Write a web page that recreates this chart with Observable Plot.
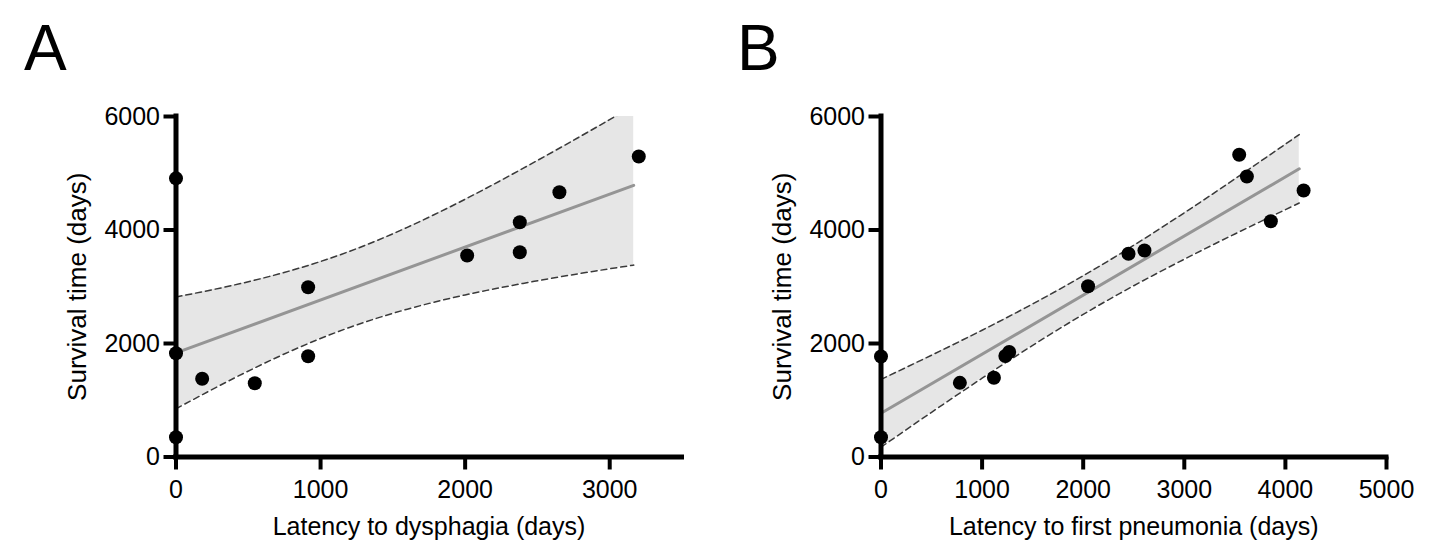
<!DOCTYPE html>
<html><head><meta charset="utf-8">
<script src="https://cdn.jsdelivr.net/npm/d3@7"></script>
<script src="https://cdn.jsdelivr.net/npm/@observablehq/plot@0.6"></script>
<style>
html,body{margin:0;padding:0;background:#fff;}
#wrap{position:relative;width:1444px;height:557px;overflow:hidden;font-family:"Liberation Sans",Arial,sans-serif;background:#fff;}
.panel{position:absolute;top:0;}
.letter{position:absolute;font-size:64px;line-height:1;top:16px;color:#000;}
</style></head><body>
<div id="wrap">
  <div class="letter" style="left:24px">A</div>
  <div class="letter" style="left:737px">B</div>
  <div class="panel" id="pA" style="left:0px"></div>
  <div class="panel" id="pB" style="left:722px"></div>
</div>
<script>
// Panel A: latency to dysphagia vs survival
const A_latency  = [0, 0, 0, 181, 545, 914, 914, 2014, 2378, 2378, 2652, 3201];
const A_survival = [4910, 1829, 349, 1378, 1300, 2992, 1776, 3551, 4137, 3609, 4666, 5295];
const A_fitX = [0, 3166];
const A_fitY = [1835, 4786];
const A_bandX  = [0, 400, 800, 1200, 1600, 2000, 2400, 2800, 3166];
const A_bandLo = [850, 1387, 1873, 2283, 2605, 2856, 3059, 3236, 3382];
const A_bandHi = [2820, 3029, 3289, 3623, 4047, 4542, 5085, 5654, 6190];
const A_xTicks = [0, 1000, 2000, 3000];

// Panel B: latency to first pneumonia vs survival
const B_latency  = [0, 0, 780, 1117, 1230, 1268, 2048, 2448, 2606, 3543, 3619, 3856, 4180];
const B_survival = [1771, 349, 1307, 1396, 1780, 1850, 3010, 3581, 3639, 5325, 4943, 4155, 4696];
const B_fitX = [0, 4137];
const B_fitY = [770, 5078];
const B_bandX  = [0, 500, 1000, 1500, 2000, 2500, 3000, 3500, 4137];
const B_bandLo = [173, 788, 1388, 1967, 2513, 3018, 3485, 3930, 4475];
const B_bandHi = [1367, 1794, 2234, 2697, 3193, 3730, 4303, 4900, 5681];
const B_xTicks = [0, 1000, 2000, 3000, 4000, 5000];

const yTicks = [0, 2000, 4000, 6000];
const yTitle = "Survival time (days)";

function zipPts(xs, ys) { return xs.map((x, i) => ({x, y: ys[i]})); }
function zipBand(xs, lo, hi) { return xs.map((x, i) => ({x, lo: lo[i], hi: hi[i]})); }

function panel({pts, fit, band, xDomain, xTicks, marginLeft, marginRight, xTitle}) {
  return Plot.plot({
    width: 722, height: 557,
    marginLeft, marginRight, marginTop: 116, marginBottom: 100.5,
    style: {fontFamily: "'Liberation Sans', Arial, sans-serif", fontSize: "25px", color: "#000", background: "transparent", overflow: "visible"},
    x: {domain: xDomain},
    y: {domain: [0, 6000]},
    marks: [
      Plot.areaY(band, {x: "x", y1: "lo", y2: "hi", fill: "#e6e6e6", curve: "natural", clip: true}),
      Plot.line(band, {x: "x", y: "lo", stroke: "#3a3a3a", strokeWidth: 1.5, strokeDasharray: "6,4", curve: "natural", clip: true}),
      Plot.line(band, {x: "x", y: "hi", stroke: "#3a3a3a", strokeWidth: 1.5, strokeDasharray: "6,4", curve: "natural", clip: true}),
      Plot.line(fit, {x: "x", y: "y", stroke: "#959595", strokeWidth: 3}),
      Plot.ruleX([0], {y1: 0, y2: 6000, stroke: "#000", strokeWidth: 5, strokeLinecap: "square"}),
      Plot.ruleY([0], {x1: 0, x2: xDomain[1], stroke: "#000", strokeWidth: 5, strokeLinecap: "square"}),
      Plot.axisX({ticks: xTicks, tickSize: 13, tickPadding: 10, strokeWidth: 4, label: null, tickFormat: d => String(d)}),
      Plot.axisY({ticks: yTicks, tickSize: 12, tickPadding: 4, strokeWidth: 4, label: null, tickFormat: d => String(d)}),
      Plot.dot(pts, {x: "x", y: "y", r: 7, fill: "#000", stroke: null}),
      Plot.text([yTitle], {text: d => d, frameAnchor: "left", textAnchor: "middle", dx: -98, rotate: -90, fontSize: 26}),
      Plot.text([xTitle], {text: d => d, frameAnchor: "bottom", dy: 78, fontSize: 25})
    ]
  });
}

document.getElementById("pA").appendChild(panel({
  pts: zipPts(A_latency, A_survival),
  fit: zipPts(A_fitX, A_fitY),
  band: zipBand(A_bandX, A_bandLo, A_bandHi),
  xDomain: [0, 3500], xTicks: A_xTicks,
  marginLeft: 175.5, marginRight: 40.5,
  xTitle: "Latency to dysphagia (days)"
}));
document.getElementById("pB").appendChild(panel({
  pts: zipPts(B_latency, B_survival),
  fit: zipPts(B_fitX, B_fitY),
  band: zipBand(B_bandX, B_bandLo, B_bandHi),
  xDomain: [0, 5000], xTicks: B_xTicks,
  marginLeft: 158.5, marginRight: 58,
  xTitle: "Latency to first pneumonia (days)"
}));
</script>
</body></html>
